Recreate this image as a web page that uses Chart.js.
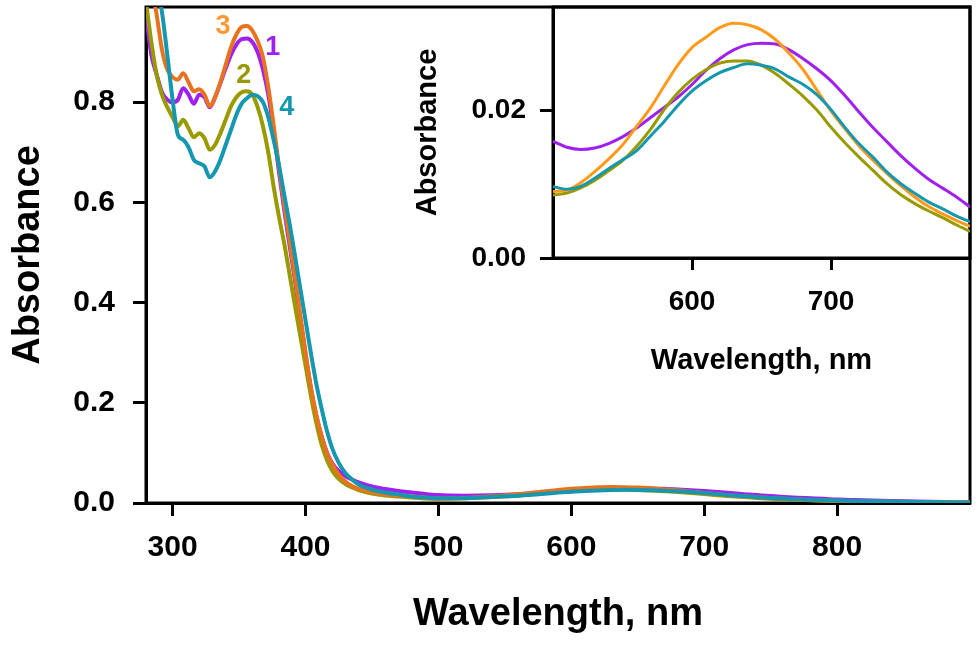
<!DOCTYPE html>
<html>
<head>
<meta charset="utf-8">
<script src="https://cdn.jsdelivr.net/npm/chart.js@4.4.1/dist/chart.umd.min.js"></script>
<style>
  html, body { margin: 0; padding: 0; background: #fff; }
  #wrap { position: relative; width: 979px; height: 652px; }
  #main { position: absolute; left: 0; top: 0; }
  #inset { position: absolute; left: 400px; top: 0; }
</style>
</head>
<body>
<div id="wrap">
  <canvas id="main" width="979" height="652"></canvas>
  <canvas id="inset" width="579" height="400"></canvas>
</div>
<script>
// UV part of the spectra (main panel only)
const uvWavelengths = [280, 284, 288, 292, 296, 300, 304, 308, 312, 316, 320, 324, 328, 332, 336, 340, 344, 348, 352, 356,
  360, 364, 368, 372, 376, 380, 384, 388, 392, 396, 400, 404, 408, 412, 416, 420, 425, 430, 435, 440, 450, 460, 470, 480, 490];
const uv1 = [0.975, 0.895, 0.855, 0.82, 0.805, 0.8, 0.805, 0.828, 0.815, 0.797, 0.815, 0.81, 0.79, 0.81, 0.838, 0.868, 0.895, 0.915, 0.926, 0.927,
  0.92, 0.9, 0.865, 0.815, 0.745, 0.662, 0.585, 0.515, 0.445, 0.37, 0.297, 0.23, 0.176, 0.134, 0.102, 0.08, 0.064, 0.054, 0.047, 0.041, 0.033, 0.028, 0.024, 0.021, 0.018];
const uv2 = [1.0, 0.92, 0.855, 0.815, 0.79, 0.77, 0.752, 0.765, 0.748, 0.73, 0.738, 0.728, 0.705, 0.715, 0.738, 0.765, 0.792, 0.81, 0.82, 0.822,
  0.815, 0.79, 0.752, 0.7, 0.632, 0.572, 0.518, 0.457, 0.395, 0.335, 0.275, 0.215, 0.162, 0.118, 0.087, 0.065, 0.048, 0.038, 0.031, 0.026, 0.019, 0.015, 0.013, 0.011, 0.009];
const uv3 = [1.1, 1.04, 0.975, 0.905, 0.865, 0.85, 0.845, 0.858, 0.84, 0.822, 0.826, 0.815, 0.792, 0.81, 0.84, 0.875, 0.91, 0.935, 0.95, 0.952,
  0.943, 0.922, 0.89, 0.83, 0.755, 0.672, 0.595, 0.525, 0.452, 0.377, 0.302, 0.232, 0.178, 0.135, 0.1, 0.078, 0.057, 0.043, 0.034, 0.028, 0.021, 0.017, 0.015, 0.013, 0.011];
const uv4 = [1.2, 1.1, 1.03, 0.98, 0.895, 0.805, 0.735, 0.725, 0.71, 0.685, 0.678, 0.672, 0.65, 0.662, 0.685, 0.715, 0.745, 0.775, 0.797, 0.808,
  0.815, 0.812, 0.8, 0.77, 0.725, 0.675, 0.615, 0.558, 0.495, 0.43, 0.365, 0.3, 0.24, 0.19, 0.145, 0.11, 0.08, 0.06, 0.047, 0.037, 0.027, 0.021, 0.017, 0.013, 0.011];

// visible band (inset, and middle of the main panel)
const visWavelengths = [500, 510, 520, 530, 540, 550, 560, 570, 580, 590, 600, 610, 620, 630, 640, 650,
  660, 670, 680, 690, 700, 710, 720, 730, 740, 750, 760, 770, 780, 790, 800];
const vis1 = [0.0158, 0.0150, 0.0147, 0.0149, 0.0155, 0.0164, 0.0176, 0.0190, 0.0204, 0.0218, 0.0235, 0.0254, 0.0270, 0.0282, 0.0289, 0.0291,
  0.0290, 0.0282, 0.0270, 0.0256, 0.0240, 0.0220, 0.0198, 0.0177, 0.0158, 0.0139, 0.0122, 0.0107, 0.0095, 0.0083, 0.0069];
const vis2 = [0.0085, 0.0088, 0.0095, 0.0105, 0.0118, 0.0132, 0.0151, 0.0174, 0.0201, 0.0224, 0.0242, 0.0255, 0.0264, 0.0267, 0.0267, 0.0261,
  0.0250, 0.0235, 0.0219, 0.0200, 0.0177, 0.0156, 0.0137, 0.0119, 0.0101, 0.0086, 0.0074, 0.0064, 0.0055, 0.0045, 0.0036];
const vis3 = [0.0090, 0.0092, 0.0102, 0.0117, 0.0134, 0.0153, 0.0178, 0.0203, 0.0233, 0.0262, 0.0285, 0.0299, 0.0312, 0.0318, 0.0316, 0.0309,
  0.0296, 0.0277, 0.0255, 0.0227, 0.0199, 0.0175, 0.0152, 0.0133, 0.0115, 0.0098, 0.0083, 0.0070, 0.0060, 0.0051, 0.0043];
const vis4 = [0.0097, 0.0093, 0.0097, 0.0108, 0.0121, 0.0133, 0.0145, 0.0165, 0.0185, 0.0207, 0.0226, 0.0240, 0.0251, 0.0258, 0.0263, 0.0261,
  0.0256, 0.0245, 0.0235, 0.0221, 0.0201, 0.0177, 0.0155, 0.0137, 0.0117, 0.0101, 0.0088, 0.0076, 0.0067, 0.0057, 0.0049];

// near-IR tail (main panel only)
const tailWavelengths = [820, 840, 860, 880, 900];
const tail1 = [0.0055, 0.0042, 0.0030, 0.0021, 0.0015];
const tail2 = [0.0027, 0.0020, 0.0014, 0.0010, 0.0008];
const tail3 = [0.0033, 0.0025, 0.0018, 0.0013, 0.0010];
const tail4 = [0.0038, 0.0028, 0.0020, 0.0014, 0.0011];

const curveNames = ['1', '2', '3', '4'];
const nameWavelength = [375.4, 353.6, 337.9, 385.9];
const nameAbsorbance = [0.91, 0.854, 0.95, 0.79];

const mainXTicks = [300, 400, 500, 600, 700, 800];
const mainYTicks = [0, 0.2, 0.4, 0.6, 0.8];
const insetXTicks = [600, 700];
const insetYTicks = [0, 0.02];

const mainColors = ['#A020F0', '#999900', '#E8731E', '#1597B0'];
const insetColors = ['#A020F0', '#999900', '#FF9A1A', '#1597B0'];
const nameColors = ['#A020F0', '#999900', '#FF9933', '#1597B0'];
const drawOrder = [4, 3, 2, 1];

Chart.defaults.font.family = "'Liberation Sans', Arial, sans-serif";
Chart.defaults.font.weight = 'bold';
Chart.defaults.color = '#000';

const pts = (xs, ys) => xs.map((x, i) => ({ x: x, y: ys[i] }));

const mainWl = uvWavelengths.concat(visWavelengths, tailWavelengths);
const mainSeries = [
  uv1.concat(vis1, tail1),
  uv2.concat(vis2, tail2),
  uv3.concat(vis3, tail3),
  uv4.concat(vis4, tail4)
];
const insetSeries = [vis1, vis2, vis3, vis4];

const boxPlugin = {
  id: 'box',
  beforeDatasetsDraw(chart) {
    const { ctx, chartArea: a } = chart;
    ctx.save();
    ctx.strokeStyle = '#000';
    ctx.lineWidth = 3;
    ctx.strokeRect(a.left, a.top, a.right - a.left, a.bottom - a.top);
    ctx.restore();
  }
};

const namePlugin = {
  id: 'names',
  afterDatasetsDraw(chart) {
    const { ctx, scales } = chart;
    ctx.save();
    ctx.font = "bold 27px 'Liberation Sans', Arial, sans-serif";
    ctx.textAlign = 'center';
    ctx.textBaseline = 'middle';
    curveNames.forEach((n, i) => {
      ctx.fillStyle = nameColors[i];
      ctx.fillText(n, scales.x.getPixelForValue(nameWavelength[i]), scales.y.getPixelForValue(nameAbsorbance[i]));
    });
    ctx.restore();
  }
};

function axis(opts) {
  return {
    type: 'linear',
    min: opts.min,
    max: opts.max,
    afterBuildTicks: (s) => { s.ticks = opts.ticks.map(v => ({ value: v })); },
    afterFit: (s) => {
      if (opts.width) s.width = opts.width;
      if (opts.height) s.height = opts.height;
      s.paddingTop = 0; s.paddingBottom = 0; s.paddingLeft = 0; s.paddingRight = 0;
    },
    border: { display: true, color: '#000', width: 3 },
    grid: { display: true, drawOnChartArea: false, drawTicks: true, tickLength: opts.tickLength, tickWidth: 3, tickColor: '#000' },
    ticks: {
      autoSkip: false, maxRotation: 0, padding: opts.pad,
      font: { size: opts.tickSize, weight: 'bold' },
      color: '#000',
      callback: (v) => opts.digits === undefined ? String(v) : Number(v).toFixed(opts.digits)
    },
    title: {
      display: true, text: opts.title, color: '#000',
      font: { size: opts.titleSize, weight: 'bold' },
      padding: opts.titlePad
    }
  };
}

new Chart(document.getElementById('main'), {
  type: 'line',
  data: {
    datasets: mainSeries.map((ys, i) => ({
      label: curveNames[i],
      data: pts(mainWl, ys),
      borderColor: mainColors[i],
      borderWidth: 4,
      pointRadius: 0,
      cubicInterpolationMode: 'monotone',
      order: drawOrder[i]
    }))
  },
  options: {
    responsive: false,
    animation: false,
    layout: { padding: { top: 7, right: 9, left: 0, bottom: 0 } },
    plugins: { legend: { display: false }, tooltip: { enabled: false } },
    scales: {
      x: axis({ min: 280, max: 900, ticks: mainXTicks, height: 149, tickLength: 13, pad: 14, tickSize: 30,
        title: 'Wavelength, nm', titleSize: 38, titlePad: { bottom: 15 } }),
      y: axis({ min: 0, max: 0.99, ticks: mainYTicks, width: 146, tickLength: 13, pad: 18, tickSize: 30, digits: 1,
        title: 'Absorbance', titleSize: 38, titlePad: { top: 6 } })
    }
  },
  plugins: [boxPlugin, namePlugin]
});

new Chart(document.getElementById('inset'), {
  type: 'line',
  data: {
    datasets: insetSeries.map((ys, i) => ({
      label: curveNames[i],
      data: pts(visWavelengths, ys),
      borderColor: insetColors[i],
      borderWidth: 3,
      pointRadius: 0,
      cubicInterpolationMode: 'monotone',
      order: drawOrder[i]
    }))
  },
  options: {
    responsive: false,
    animation: false,
    layout: { padding: { top: 7, right: 9, left: 0, bottom: 0 } },
    plugins: { legend: { display: false }, tooltip: { enabled: false } },
    scales: {
      x: axis({ min: 500, max: 800, ticks: insetXTicks, height: 142, tickLength: 12, pad: 15, tickSize: 28,
        title: 'Wavelength, nm', titleSize: 29, titlePad: { bottom: 22 } }),
      y: axis({ min: 0, max: 0.034, ticks: insetYTicks, width: 153, tickLength: 13, pad: 14, tickSize: 28, digits: 2,
        title: 'Absorbance', titleSize: 29, titlePad: { top: 11 } })
    }
  },
  plugins: [boxPlugin]
});
</script>
</body>
</html>
